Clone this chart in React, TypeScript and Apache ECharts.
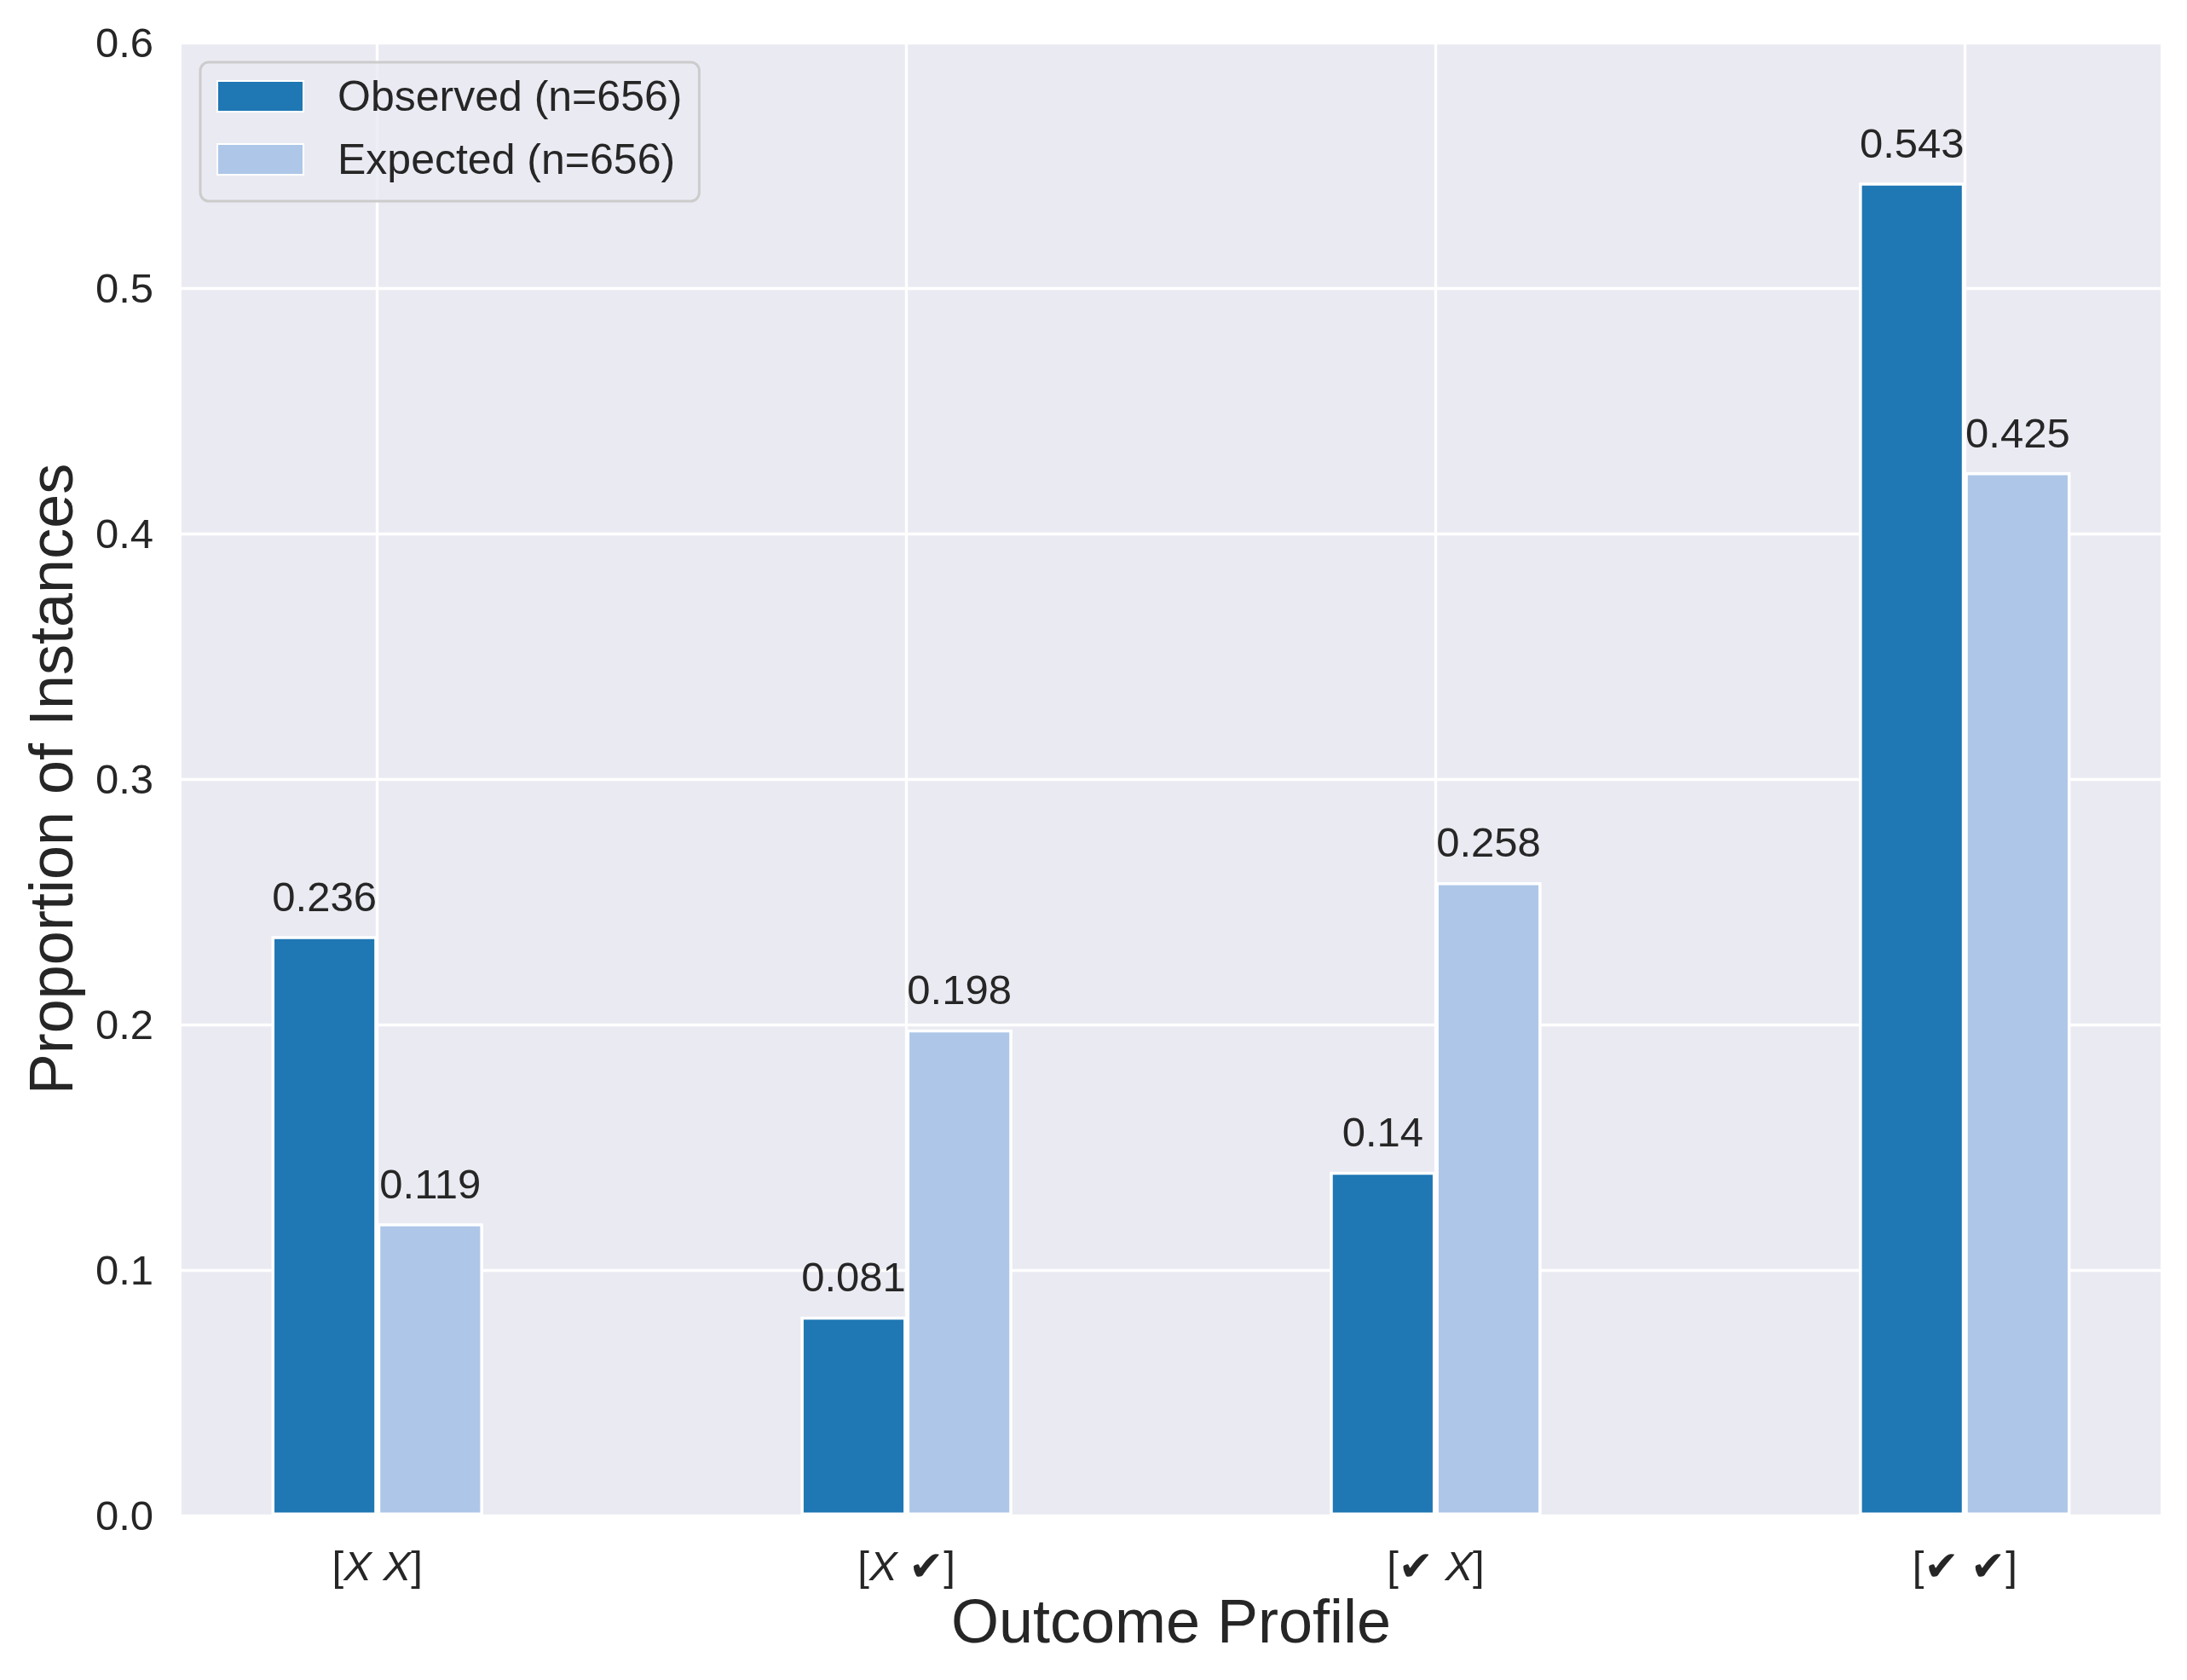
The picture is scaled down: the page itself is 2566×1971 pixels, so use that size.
import React, { useEffect, useRef } from "react";
import * as echarts from "echarts";

const categories = ["[X X]", "[X ✔]", "[✔ X]", "[✔ ✔]"];
const observed = [0.236, 0.081, 0.14, 0.543];
const expected = [0.119, 0.198, 0.258, 0.425];
const seriesNames = ["Observed (n=656)", "Expected (n=656)"];
const yTicks = [0, 0.1, 0.2, 0.3, 0.4, 0.5, 0.6];

const FONT = "'Liberation Sans', Arial, 'DejaVu Sans', sans-serif";
const TEXT = "#262626";

function richLabel(s: string): string {
  return s.replace(/X/g, "{i|X}");
}

export default function App() {
  const ref = useRef<HTMLDivElement>(null);
  useEffect(() => {
    if (!ref.current) return;
    const chart = echarts.init(ref.current, undefined, { renderer: "svg" });
    const catPos = categories.map((_, i) => i);
    const labelStyle = {
      show: true,
      position: "top" as const,
      distance: 22,
      fontSize: 49,
      fontFamily: FONT,
      color: TEXT,
      formatter: (p: any) => String(p.value[1]),
    };
    chart.setOption({
      animation: false,
      backgroundColor: "#ffffff",
      textStyle: { fontFamily: FONT },
      grid: {
        left: 213,
        top: 50,
        width: 2322,
        height: 1728,
        show: true,
        backgroundColor: "#EAEAF2",
        borderWidth: 0,
      },
      legend: {
        orient: "vertical",
        left: 235,
        top: 73,
        itemWidth: 101,
        itemHeight: 36,
        itemGap: 24,
        padding: [15, 20, 24, 19],
        backgroundColor: "rgba(234,234,242,0.8)",
        borderColor: "#cccccc",
        borderWidth: 3,
        borderRadius: 10,
        icon: "rect",
        textStyle: {
          fontSize: 50,
          lineHeight: 49,
          color: TEXT,
          fontFamily: FONT,
          padding: [0, 0, 0, 35],
        },
        data: seriesNames,
      },
      xAxis: {
        type: "value",
        min: -0.37,
        max: 3.37,
        axisLine: { show: false },
        axisTick: { show: false, customValues: catPos },
        axisLabel: {
          customValues: catPos,
          margin: 34,
          fontSize: 49,
          color: TEXT,
          fontFamily: FONT,
          formatter: (v: number) => {
            const idx = Math.round(v);
            if (Math.abs(v - idx) > 1e-6 || idx < 0 || idx >= categories.length) return "";
            return richLabel(categories[idx]);
          },
          rich: {
            i: { fontStyle: "italic", fontSize: 49, color: TEXT, fontFamily: FONT },
          },
        },
        splitLine: { show: true, lineStyle: { color: "#ffffff", width: 3.3 } },
        name: "Outcome Profile",
        nameLocation: "middle",
        nameGap: 88,
        nameTextStyle: { fontSize: 72, color: TEXT, fontFamily: FONT },
      },
      yAxis: {
        type: "value",
        min: yTicks[0],
        max: yTicks[yTicks.length - 1],
        interval: 0.1,
        axisLine: { show: false },
        axisTick: { show: false },
        axisLabel: {
          margin: 33,
          fontSize: 49,
          color: TEXT,
          fontFamily: FONT,
          formatter: (v: number) => v.toFixed(1),
        },
        splitLine: { show: true, lineStyle: { color: "#ffffff", width: 3.3 } },
        name: "Proportion of Instances",
        nameLocation: "middle",
        nameGap: 117,
        nameTextStyle: { fontSize: 72, color: TEXT, fontFamily: FONT },
      },
      series: [
        {
          type: "bar",
          name: seriesNames[0],
          data: observed.map((v, i) => [i, v]),
          barWidth: "20%",
          barGap: "0%",
          itemStyle: { color: "#1f77b4", borderColor: "#ffffff", borderWidth: 3.5 },
          label: labelStyle,
        },
        {
          type: "bar",
          name: seriesNames[1],
          data: expected.map((v, i) => [i, v]),
          barWidth: "20%",
          barGap: "0%",
          itemStyle: { color: "#aec7e8", borderColor: "#ffffff", borderWidth: 3.5 },
          label: labelStyle,
        },
      ],
    });
    return () => chart.dispose();
  }, []);
  return (
    <div
      ref={ref}
      style={{ position: "fixed", left: 0, top: 0, width: 2566, height: 1971 }}
    />
  );
}
